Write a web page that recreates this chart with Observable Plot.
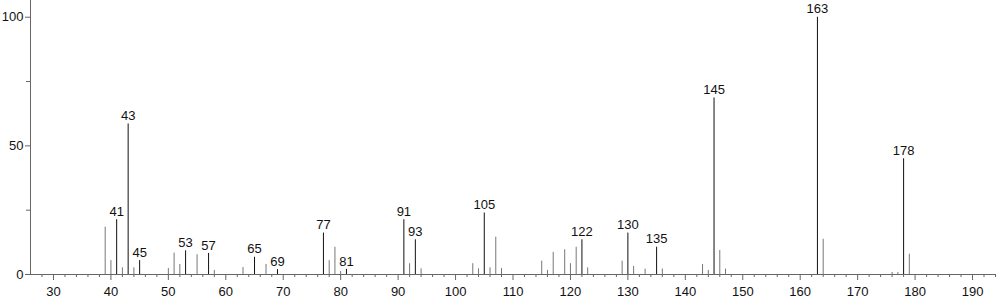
<!DOCTYPE html>
<html>
<head>
<meta charset="utf-8">
<script src="https://cdn.jsdelivr.net/npm/d3@7"></script>
<script src="https://cdn.jsdelivr.net/npm/@observablehq/plot@0.6"></script>
<style>
  html, body { margin: 0; padding: 0; background: #fff; }
</style>
</head>
<body>
<div id="chart"></div>
<script>
const mz = [39,40,41,42,43,44,45,50,51,52,53,55,57,58,63,65,67,69,77,78,79,80,81,91,92,93,94,103,104,105,106,107,108,115,116,117,119,120,121,122,123,129,130,131,133,135,136,143,144,145,146,147,163,164,176,177,178,179];
const intensity = [18.4,5.4,21.3,2.6,58.5,2.6,5.4,2.3,8.3,3.9,9.2,7.7,8.2,1.6,2.7,6.7,3.9,1.9,16.1,5.4,10.6,1.2,2.0,21.3,4.2,13.5,2.2,4.2,2.2,23.9,2.6,14.5,2.3,5.2,1.6,8.6,9.6,4.2,10.6,13.5,2.6,5.2,16.1,3.1,2.1,10.6,2.1,3.9,1.6,68.6,9.3,2.1,100,13.7,0.8,0.8,45,7.9];
const labeledPeaks = [41,43,45,53,57,65,69,77,81,91,93,105,122,130,135,145,163,178];
const xMajorTicks = [30,40,50,60,70,80,90,100,110,120,130,140,150,160,170,180,190];
const xMinorTicks = d3.range(28, 195, 2).filter(v => v % 10 !== 0);
const yMajorTicks = [0, 50, 100];
const yMinorTicks = [25, 75];

const peaks = mz.map((m, i) => ({mz: m, y: intensity[i], labeled: labeledPeaks.includes(m)}));

const axisColor = "#666";

const chart = Plot.plot({
  width: 996,
  height: 299,
  marginLeft: 30,
  marginRight: 1,
  marginTop: 0,
  marginBottom: 25,
  style: {fontFamily: "'Liberation Sans', Arial, sans-serif", fontSize: "13px", color: "#111", background: "#fff"},
  x: {domain: [26, 194], label: null},
  y: {domain: [0, 106.5], label: null},
  marks: [
    Plot.axisX({ticks: xMajorTicks, tickSize: 6, tickPadding: 6, stroke: axisColor, label: null, fill: "#111"}),
    Plot.axisX({ticks: xMinorTicks, tickSize: 3, tickFormat: () => "", stroke: axisColor, label: null}),
    Plot.axisY({ticks: yMajorTicks, tickSize: 5, tickPadding: 2, stroke: axisColor, label: null, fill: "#111"}),
    Plot.axisY({ticks: yMinorTicks, tickSize: 4, tickFormat: () => "", stroke: axisColor, label: null}),
    Plot.ruleY([0], {stroke: axisColor, strokeWidth: 1}),
    Plot.ruleX([26], {stroke: axisColor, strokeWidth: 1}),
    Plot.ruleX(peaks, {x: "mz", y1: 0, y2: "y", stroke: d => d.labeled ? "#111" : "#777", strokeWidth: 1}),
    Plot.text(peaks.filter(d => d.labeled), {x: "mz", y: "y", text: d => String(d.mz), dy: -8, fill: "#111", fontSize: 13})
  ]
});
document.getElementById("chart").appendChild(chart);
</script>
</body>
</html>
